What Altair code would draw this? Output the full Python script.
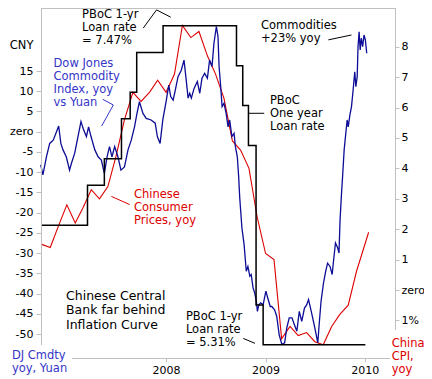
import altair as alt
import pandas as pd

FONT = "DejaVu Sans"
BLUE = "#0c0c96"
NOTE_BLUE = "#3535c8"
RED = "#dd0000"
GRAY = "#c0c0c0"

# ---------------- data ----------------
# Dow Jones Commodity Index, yoy % in yuan (left axis)
dj_dates = ["2006-09-27", "2006-10-05", "2006-10-18", "2006-10-30", "2006-11-12", "2006-11-24", "2006-12-02", "2006-12-10",
            "2006-12-18", "2006-12-30", "2007-01-11", "2007-01-18", "2007-01-30", "2007-02-11", "2007-02-22", "2007-03-04",
            "2007-03-14", "2007-03-22", "2007-03-31", "2007-04-14", "2007-04-26", "2007-05-08", "2007-05-19", "2007-05-29",
            "2007-06-07", "2007-06-16", "2007-06-26", "2007-07-08", "2007-07-19", "2007-08-01", "2007-08-14", "2007-08-26",
            "2007-09-07", "2007-09-16", "2007-09-25", "2007-10-08", "2007-10-20", "2007-11-07", "2007-11-22", "2007-11-30",
            "2007-12-10", "2007-12-20", "2008-01-02", "2008-01-11", "2008-01-18", "2008-01-27", "2008-02-04", "2008-02-14",
            "2008-02-26", "2008-03-07", "2008-03-15", "2008-03-22", "2008-03-28", "2008-04-03", "2008-04-13", "2008-04-25",
            "2008-05-04", "2008-05-12", "2008-05-22", "2008-06-01", "2008-06-09", "2008-06-18", "2008-06-25", "2008-07-04",
            "2008-07-10", "2008-07-14", "2008-07-20", "2008-07-25", "2008-08-01", "2008-08-09", "2008-08-16", "2008-08-22",
            "2008-08-30", "2008-09-07", "2008-09-12", "2008-09-19", "2008-09-24", "2008-09-28", "2008-10-06", "2008-10-14",
            "2008-10-22", "2008-10-28", "2008-11-04", "2008-11-09", "2008-11-16", "2008-11-22", "2008-11-28", "2008-12-02",
            "2008-12-07", "2008-12-14", "2008-12-23", "2009-01-02", "2009-01-09", "2009-01-18", "2009-01-24", "2009-02-03",
            "2009-02-11", "2009-02-20", "2009-03-02", "2009-03-12", "2009-03-20", "2009-03-29", "2009-04-08", "2009-04-17",
            "2009-04-26", "2009-05-05", "2009-05-14", "2009-05-24", "2009-06-01", "2009-06-08", "2009-06-18", "2009-06-26",
            "2009-07-05", "2009-07-12", "2009-07-17", "2009-07-24", "2009-08-02", "2009-08-10", "2009-08-17", "2009-08-26",
            "2009-09-03", "2009-09-07", "2009-09-15", "2009-09-23", "2009-09-28", "2009-10-02", "2009-10-07", "2009-10-11",
            "2009-10-17", "2009-10-23", "2009-10-28", "2009-11-01", "2009-11-07", "2009-11-13", "2009-11-19", "2009-11-25",
            "2009-11-29", "2009-12-04", "2009-12-07", "2009-12-11", "2009-12-15", "2009-12-19", "2009-12-24", "2009-12-29",
            "2010-01-03", "2010-01-08"]
dj_values = [-8.2, -10.7, -6.2, -2.9, -2.1, 0.0, 1.4, -2.9,
             -4.5, -6.2, -9.5, -7.8, -5.3, -1.2, 2.5, 0.4,
             -1.2, 1.2, -1.2, -4.5, -6.2, -7.0, -10.3, -6.2,
             -3.7, -6.2, -3.7, -6.2, -9.5, -8.7, -4.5, -2.1,
             1.2, 4.5, 7.4, 4.5, 3.3, 2.9, 2.1, -1.2,
             -2.9, 2.9, 7.8, 11.5, 8.7, 7.8, 10.3, 13.6,
             15.2, 17.7, 12.8, 8.3, 9.5, 8.3, 10.7, 12.4,
             9.5, 13.2, 14.4, 13.2, 17.7, 16.1, 21.8, 26.0,
             23.5, 16.1, 11.1, 6.2, 7.0, 4.5, 1.2, 2.9,
             -1.2, -0.4, -3.7, -6.2, -11.1, -16.4, -23.8, -27.9,
             -34.5, -33.3, -35.7, -35.3, -38.6, -39.9, -41.9, -44.4,
             -42.8, -42.3, -42.8, -39.4, -41.1, -43.2, -43.2, -44.0,
             -45.6, -50.2, -52.6, -52.2, -48.5, -46.0, -46.0, -47.7,
             -49.3, -44.4, -46.9, -43.6, -42.8, -41.5, -44.4, -46.9,
             -49.8, -52.2, -47.7, -41.9, -37.4, -34.5, -32.5, -33.3,
             -35.3, -32.5, -27.5, -28.7, -30.0, -21.7, -15.6, -11.4,
             -4.5, -0.4, 2.9, 1.2, 4.1, 6.2, 10.3, 14.8,
             11.1, 13.6, 21.0, 24.7, 20.2, 23.1, 21.0, 23.9,
             22.7, 19.4]

# China CPI, yoy % (right axis), plotted at month end
cpi_dates = ["2006-10-01", "2006-11-01", "2006-12-01", "2007-01-01", "2007-02-01", "2007-03-01", "2007-04-01", "2007-05-01",
             "2007-06-01", "2007-07-01", "2007-08-01", "2007-09-01", "2007-10-01", "2007-11-01", "2007-12-01", "2008-01-01",
             "2008-02-01", "2008-03-01", "2008-04-01", "2008-05-01", "2008-06-01", "2008-07-01", "2008-08-01", "2008-09-01",
             "2008-10-01", "2008-11-01", "2008-12-01", "2009-01-01", "2009-02-01", "2009-03-01", "2009-04-01", "2009-05-01",
             "2009-06-01", "2009-07-01", "2009-08-01", "2009-09-01", "2009-10-01", "2009-11-01", "2009-12-01", "2010-01-15"]
cpi_values = [1.5, 1.4, 2.1, 2.8, 2.2, 2.7, 3.3, 3.0,
              3.4, 4.4, 5.6, 6.5, 6.2, 6.5, 6.9, 6.5,
              7.1, 8.7, 8.3, 8.5, 7.7, 7.1, 6.3, 4.9,
              4.6, 4.0, 2.4, 1.2, 1.0, -1.6, -1.2, -1.5,
              -1.4, -1.7, -1.8, -1.2, -0.8, -0.5, 0.6, 1.9]

# PBoC one-year loan rate, % (own hidden scale)
pboc_dates = ["2006-09-28", "2007-03-18", "2007-05-19", "2007-07-21", "2007-08-22", "2007-09-15", "2007-12-21",
              "2008-09-16", "2008-10-09", "2008-10-30", "2008-11-27", "2008-12-23", "2010-01-03"]
pboc_rates = [6.12, 6.39, 6.57, 6.84, 7.02, 7.29, 7.47, 7.20, 6.93, 6.66, 5.58, 5.31, 5.31]

# annotations (placed in date / left-axis units)
note_texts = ["PBoC 1-yr\nLoan rate\n= 7.47%", "Dow Jones\nCommodity\nIndex, yoy\nvs Yuan", "Commodities\n+23% yoy",
              "PBoC\nOne year\nLoan rate", "Chinese\nConsumer\nPrices, yoy", "PBoC 1-yr\nLoan rate\n= 5.31%",
              "DJ Cmdty\nyoy, Yuan", "China\nCPI,\nyoy"]
note_dates = ["2007-02-26", "2006-11-13", "2008-12-15", "2009-01-17", "2007-09-05", "2008-03-14", "2006-06-13", "2010-04-10"]
note_values = [30.3, 18.1, 27.6, 9.05, -14.2, -44.3, -54.0, -51.1]
note_colors = ["black", NOTE_BLUE, "black", "black", RED, "black", NOTE_BLUE, RED]

title_texts = ["Chinese Central\nBank far behind\nInflation Curve"]
title_dates = ["2006-12-29"]
title_values = [-39.05]

pointer_ids = [1, 1, 1, 2, 2, 2, 3, 3, 4, 4, 5, 5, 7, 7]
pointer_seq = [0, 1, 2, 0, 1, 2, 0, 1, 0, 1, 0, 1, 0, 1]
pointer_dates = ["2007-10-09", "2007-11-27", "2008-01-18", "2007-05-13", "2007-06-21", "2007-05-09",
                 "2009-08-20", "2009-11-13", "2008-10-31", "2008-12-27", "2007-06-14", "2007-08-20",
                 "2008-10-11", "2008-11-23"]
pointer_values = [25.6, 30.1, 28.3, 8.0, 6.6, 1.4, 22.7, 23.9, 4.55, 4.55, -16.0, -18.0, -51.1, -52.3]
pointer_colors = ["black"] * 3 + [NOTE_BLUE] * 3 + ["black"] * 4 + [RED] * 2 + ["black"] * 2

left_ticks = list(range(-50, 20, 5))
right_ticks = list(range(-1, 9))
year_ticks = [2008, 2009, 2010]

# ---------------- chart ----------------
def t(d):
    return d + "T00:00:00"

dj = pd.DataFrame({"date": [t(d) for d in dj_dates], "v": dj_values})
cpi = pd.DataFrame({"date": [t(d) for d in cpi_dates], "v": cpi_values})
pboc = pd.DataFrame({"date": [t(d) for d in pboc_dates], "v": pboc_rates})
notes = pd.DataFrame({"date": [t(d) for d in note_dates], "v": note_values, "label": note_texts, "col": note_colors})
titles = pd.DataFrame({"date": [t(d) for d in title_dates], "v": title_values, "label": title_texts})
pointers = pd.DataFrame({"id": pointer_ids, "seq": pointer_seq, "date": [t(d) for d in pointer_dates],
                         "v": pointer_values, "col": pointer_colors})
dummy = pd.DataFrame({"k": [0]})

LEFT_DOMAIN = [-55.93, 30.57]
RIGHT_DOMAIN = [-2.236, 9.273]
RATE_DOMAIN = [5.2208, 7.5905]
x_scale = alt.Scale(domain=[alt.DateTime(year=2006, month=9, date=28), alt.DateTime(year=2010, month=4, date=22)])

x_axis = alt.Axis(values=[alt.DateTime(year=y, month=1, date=1) for y in year_ticks], format="%Y",
                  title=None, grid=False, domain=False, tickColor=GRAY, tickSize=4, labelPadding=2,
                  labelFont=FONT, labelFontSize=11, labelColor="black", labelAlign="center")
x_enc = alt.X("date:T", scale=x_scale, axis=x_axis)

red_line = alt.Chart(cpi).mark_line(color=RED, strokeWidth=1.1).encode(
    x=x_enc,
    y=alt.Y("v:Q", scale=alt.Scale(domain=RIGHT_DOMAIN),
            axis=alt.Axis(orient="right", values=right_ticks, title=None, grid=False, domain=False,
                          tickColor=GRAY, tickSize=4, labelPadding=2, labelFont=FONT, labelFontSize=11,
                          labelColor="black",
                          labelExpr="datum.value == 0 ? 'zero' : (datum.value == -1 ? '1%' : '' + datum.value)")))

blue_line = alt.Chart(dj).mark_line(color=BLUE, strokeWidth=1.3).encode(
    x=x_enc,
    y=alt.Y("v:Q", scale=alt.Scale(domain=LEFT_DOMAIN),
            axis=alt.Axis(orient="left", values=left_ticks, title="CNY", titleAngle=0, titleAlign="right",
                          titleBaseline="middle", titleX=-8, titleY=37, titleFont=FONT, titleFontSize=11.5,
                          titleFontWeight="normal", titleColor="black",
                          grid=False, domain=False, tickColor=GRAY, tickSize=5, labelPadding=3,
                          labelFont=FONT, labelFontSize=11, labelColor="black",
                          labelExpr="datum.value == 0 ? 'zero' : '' + datum.value")))

black_line = alt.Chart(pboc).mark_line(color="black", strokeWidth=1.5, interpolate="step-after").encode(
    x=x_enc, y=alt.Y("v:Q", scale=alt.Scale(domain=RATE_DOMAIN), axis=None))

y_left_hidden = alt.Y("v:Q", scale=alt.Scale(domain=LEFT_DOMAIN), axis=None)

pointer_layer = alt.Chart(pointers).mark_line(strokeWidth=1).encode(
    x=x_enc, y=y_left_hidden, detail="id:N", order="seq:Q", color=alt.Color("col:N", scale=None))

note_layer = alt.Chart(notes).mark_text(font=FONT, fontSize=11.5, lineHeight=13, align="left",
                                        baseline="top", lineBreak="\n").encode(
    x=x_enc, y=y_left_hidden, text="label:N", color=alt.Color("col:N", scale=None))

title_layer = alt.Chart(titles).mark_text(font=FONT, fontSize=12.5, lineHeight=14.5, align="left",
                                          baseline="top", lineBreak="\n", color="black").encode(
    x=x_enc, y=y_left_hidden, text="label:N")

def frame(**kw):
    return alt.Chart(dummy).mark_rule(color=GRAY, strokeWidth=1).encode(**kw)

frame_top = frame(x=alt.value(0), x2=alt.value(354), y=alt.value(0.5))
frame_left = frame(x=alt.value(0.5), y=alt.value(0), y2=alt.value(337))
frame_right = frame(x=alt.value(354.5), y=alt.value(0), y2=alt.value(322))
frame_bottom = frame(x=alt.value(31), x2=alt.value(349), y=alt.value(350.5))

chart = alt.layer(
    red_line, blue_line, black_line, pointer_layer, note_layer, title_layer,
    frame_top, frame_left, frame_right, frame_bottom,
).resolve_scale(y="independent", color="independent").properties(
    width=354, height=350,
    autosize=alt.AutoSizeParams(type="none"),
    padding={"left": 33, "top": 0, "right": 29, "bottom": 21},
).configure_view(stroke=None)

chart.save("out.html", embed_options={"renderer": "svg", "actions": False})
